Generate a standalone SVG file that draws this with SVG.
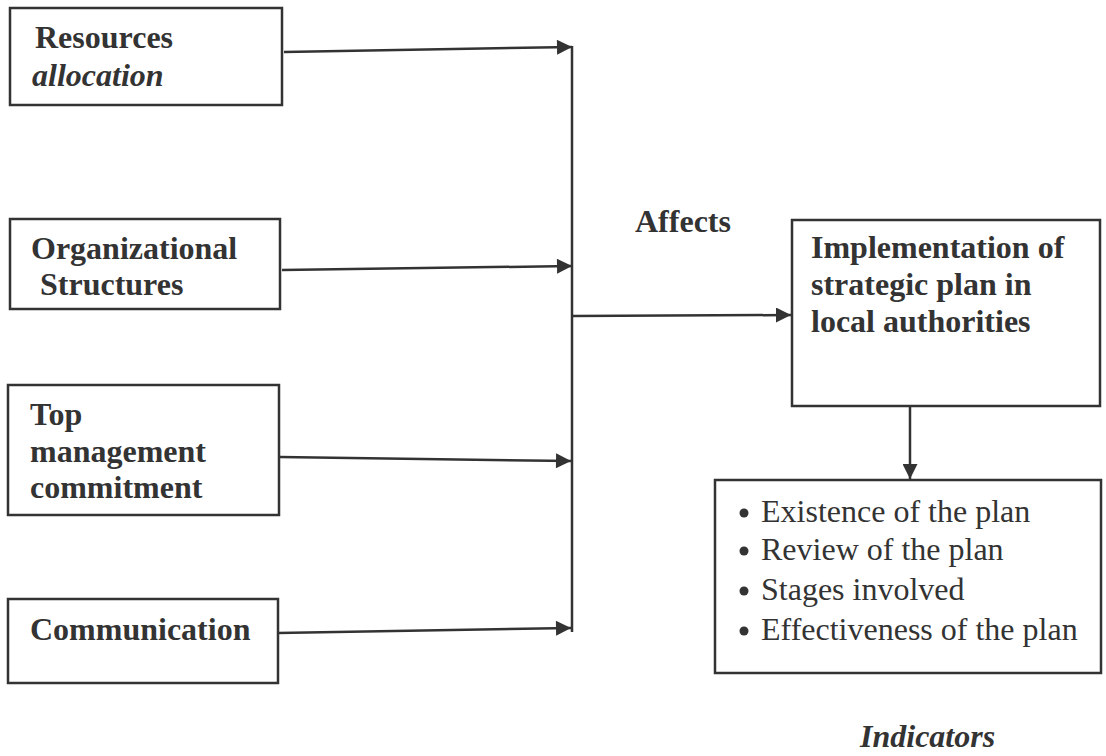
<svg xmlns="http://www.w3.org/2000/svg" width="1106" height="756" viewBox="0 0 1106 756">
<defs>
<style>
.box{fill:#fff;stroke:#333;stroke-width:2.5}
.b{font-family:"Liberation Serif",serif;font-weight:bold;font-size:32px;fill:#333}
.r{font-family:"Liberation Serif",serif;font-size:32px;fill:#333}
.ln{fill:none;stroke:#333;stroke-width:2.5}
</style>
<marker id="ah" viewBox="0 0 10 10" refX="10" refY="5" markerWidth="17" markerHeight="15" markerUnits="userSpaceOnUse" orient="auto">
<path d="M0,0 L10,5 L0,10 Z" fill="#333"/>
</marker>
</defs>
<rect width="1106" height="756" fill="#fff"/>
<g id="connectors">
<line class="ln" x1="572" y1="46" x2="572" y2="632"/>
<line class="ln" x1="284" y1="52" x2="572" y2="47" marker-end="url(#ah)"/>
<line class="ln" x1="282" y1="270" x2="572" y2="266" marker-end="url(#ah)"/>
<line class="ln" x1="280" y1="457" x2="571" y2="461" marker-end="url(#ah)"/>
<line class="ln" x1="278" y1="633" x2="571" y2="628" marker-end="url(#ah)"/>
<line class="ln" x1="572" y1="316" x2="791" y2="315" marker-end="url(#ah)"/>
<line class="ln" x1="910" y1="406" x2="910" y2="479" marker-end="url(#ah)"/>
</g>
<g id="n1">
<rect class="box" x="10" y="8" width="272" height="97"/>
<text class="b" x="35" y="48">Resources</text>
<text class="b" x="32" y="86" font-style="italic">allocation</text>
</g>
<g id="n2">
<rect class="box" x="10" y="219" width="270" height="90"/>
<text class="b" x="31" y="259">Organizational</text>
<text class="b" x="40" y="295">Structures</text>
</g>
<g id="n3">
<rect class="box" x="8" y="385" width="271" height="130"/>
<text class="b" x="30" y="425">Top</text>
<text class="b" x="30" y="462">management</text>
<text class="b" x="30" y="498">commitment</text>
</g>
<g id="n4">
<rect class="box" x="8" y="599" width="270" height="84"/>
<text class="b" x="30" y="640">Communication</text>
</g>
<g id="affects">
<text class="b" x="635" y="232">Affects</text>
</g>
<g id="n5">
<rect class="box" x="792" y="220" width="308" height="186"/>
<text class="b" x="811" y="258">Implementation of</text>
<text class="b" x="811" y="295">strategic plan in</text>
<text class="b" x="811" y="332">local authorities</text>
</g>
<g id="n6">
<rect class="box" x="715" y="480" width="386" height="193"/>
<circle cx="744" cy="513" r="4.5" fill="#333"/>
<circle cx="744" cy="551" r="4.5" fill="#333"/>
<circle cx="744" cy="591" r="4.5" fill="#333"/>
<circle cx="744" cy="631" r="4.5" fill="#333"/>
<text class="r" x="761" y="522">Existence of the plan</text>
<text class="r" x="761" y="560">Review of the plan</text>
<text class="r" x="761" y="600">Stages involved</text>
<text class="r" x="761" y="640">Effectiveness of the plan</text>
</g>
<g id="indicators">
<text class="b" x="860" y="747" font-style="italic">Indicators</text>
</g>
</svg>
